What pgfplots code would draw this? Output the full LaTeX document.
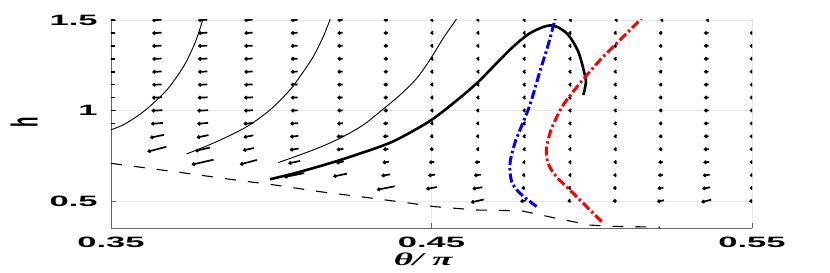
\documentclass[border=0pt]{standalone}
\usepackage{fontspec}
\setmainfont{Liberation Sans}
\newfontfamily\lserif{Liberation Serif}
\usepackage{pgfplots}
\pgfplotsset{compat=1.18}
\usepackage{pgfplotstable}
\usetikzlibrary{arrows.meta}

% quiver field: x, y, horizontal length L (px, pointing left), downward drop d (px)
\pgfplotstableread{
x y L d
0.35 0.92857 9 0
0.35 1.0 9 0
0.35 1.07143 9 0
0.35 1.14286 9 0
0.35 1.21429 9 0
0.35 1.28571 9 0
0.35 1.35714 9 0
0.35 1.42857 9 0
0.35 1.5 9 0
0.36429 0.78571 19 5
0.36429 0.85714 14 3
0.36429 0.92857 12 1
0.36429 1.0 11 0.5
0.36429 1.07143 10 0.5
0.36429 1.14286 9.5 0.5
0.36429 1.21429 9.5 0.5
0.36429 1.28571 9.5 0.5
0.36429 1.35714 9.5 0.5
0.36429 1.42857 9.5 0.5
0.36429 1.5 9.5 0.5
0.37857 0.71429 22 5
0.37857 0.78571 15 3.5
0.37857 0.85714 12 2.5
0.37857 0.92857 11 1
0.37857 1.0 11 0.5
0.37857 1.07143 10 0.5
0.37857 1.14286 9.5 0.5
0.37857 1.21429 9.5 0.5
0.37857 1.28571 9.5 0.5
0.37857 1.35714 9.5 0.5
0.37857 1.42857 9.5 0.5
0.37857 1.5 9.5 0.5
0.39286 0.71429 17 4.5
0.39286 0.78571 11 2.5
0.39286 0.85714 10 2
0.39286 0.92857 10 1
0.39286 1.0 9 0.5
0.39286 1.07143 9 0.5
0.39286 1.14286 8.5 0.5
0.39286 1.21429 8.5 0.5
0.39286 1.28571 8.5 0.5
0.39286 1.35714 8.5 0.5
0.39286 1.42857 8.5 0.5
0.39286 1.5 8.5 0.5
0.40714 0.64286 20 4
0.40714 0.71429 12 2.5
0.40714 0.78571 9 1.5
0.40714 0.85714 8.5 1
0.40714 0.92857 8 0.5
0.40714 1.0 7 0.3
0.40714 1.07143 7 0.3
0.40714 1.14286 7 0.3
0.40714 1.21429 7 0.3
0.40714 1.28571 7 0.3
0.40714 1.35714 7 0.3
0.40714 1.42857 7 0.3
0.40714 1.5 7 0.3
0.42143 0.64286 14 3
0.42143 0.71429 8 1.5
0.42143 0.78571 7 1
0.42143 0.85714 7 0.5
0.42143 0.92857 6 0.3
0.42143 1.0 5.5 0.3
0.42143 1.07143 5.5 0.3
0.42143 1.14286 5.5 0.3
0.42143 1.21429 5.5 0.3
0.42143 1.28571 5.5 0.3
0.42143 1.35714 5.5 0.3
0.42143 1.42857 5.5 0.3
0.42143 1.5 5.5 0.3
0.43571 0.57143 18 3.5
0.43571 0.64286 9 1.5
0.43571 0.71429 6.5 1
0.43571 0.78571 5.5 0.5
0.43571 0.85714 5.5 0.3
0.43571 0.92857 5 0.2
0.43571 1.0 4.5 0.2
0.43571 1.07143 4.5 0.2
0.43571 1.14286 4.5 0.2
0.43571 1.21429 4.5 0.2
0.43571 1.28571 4.5 0.2
0.43571 1.35714 4.5 0.2
0.43571 1.42857 4.5 0.2
0.43571 1.5 4.5 0.2
0.45 0.57143 11 2
0.45 0.64286 7 1
0.45 0.71429 5.5 0.5
0.45 0.78571 4 0.3
0.45 0.85714 3.5 0.2
0.45 0.92857 3 0.2
0.45 1.0 3 0.2
0.45 1.07143 3 0.2
0.45 1.14286 3 0.2
0.45 1.21429 3 0.2
0.45 1.28571 3 0.2
0.45 1.35714 3 0.2
0.45 1.42857 3 0.2
0.45 1.5 3 0.2
0.46429 0.5 13 3
0.46429 0.57143 10 1.5
0.46429 0.64286 7 1
0.46429 0.71429 5 0.5
0.46429 0.78571 3 0.2
0.46429 0.85714 3 0.2
0.46429 0.92857 3 0.2
0.46429 1.0 3 0.2
0.46429 1.07143 2.5 0.1
0.46429 1.14286 2.5 0.1
0.46429 1.21429 2.5 0.1
0.46429 1.28571 2.5 0.1
0.46429 1.35714 2.5 0.1
0.46429 1.42857 2.5 0.1
0.46429 1.5 2.5 0.1
0.47857 0.5 6 1
0.47857 0.57143 3.5 0.5
0.47857 0.64286 2.5 0.2
0.47857 0.71429 2 0.1
0.47857 0.78571 1.5 0
0.47857 0.85714 1.5 0
0.47857 0.92857 1.5 0
0.47857 1.0 1.5 0
0.47857 1.07143 1.5 0
0.47857 1.14286 1.5 0
0.47857 1.21429 1.5 0
0.47857 1.28571 1.5 0
0.47857 1.35714 1.5 0
0.47857 1.42857 1.5 0
0.47857 1.5 1.5 0
0.49286 0.5 3 0.5
0.49286 0.57143 2.5 0.3
0.49286 0.64286 1.5 0
0.49286 0.71429 1.5 0
0.49286 0.78571 1.5 0
0.49286 0.85714 1.5 0
0.49286 0.92857 1.5 0
0.49286 1.0 1.5 0
0.49286 1.07143 1.5 0
0.49286 1.14286 1.5 0
0.49286 1.21429 1.5 0
0.49286 1.28571 1.5 0
0.49286 1.35714 1.5 0
0.49286 1.42857 1.5 0
0.49286 1.5 0.5 0
0.50714 0.5 4 0.5
0.50714 0.57143 3.5 0.5
0.50714 0.64286 3 0.3
0.50714 0.71429 2.5 0.1
0.50714 0.78571 2.5 0.1
0.50714 0.85714 2.5 0.1
0.50714 0.92857 2.5 0.1
0.50714 1.0 2.5 0.1
0.50714 1.07143 2.5 0.1
0.50714 1.14286 2.5 0.1
0.50714 1.21429 2.5 0.1
0.50714 1.28571 2.5 0.1
0.50714 1.35714 2.5 0.1
0.50714 1.42857 2.5 0.1
0.50714 1.5 0.5 0
0.52143 0.5 7 1.5
0.52143 0.57143 6 1
0.52143 0.64286 5 0.5
0.52143 0.71429 4.5 0.5
0.52143 0.78571 3.8 0.2
0.52143 0.85714 3.8 0.2
0.52143 0.92857 3.8 0.2
0.52143 1.0 3.8 0.2
0.52143 1.07143 3.8 0.2
0.52143 1.14286 3.8 0.2
0.52143 1.21429 3.8 0.2
0.52143 1.28571 3.8 0.2
0.52143 1.35714 3.8 0.2
0.52143 1.42857 3.8 0.2
0.52143 1.5 0.8 0
0.53571 0.5 10 2.5
0.53571 0.57143 8 1.5
0.53571 0.64286 7 1
0.53571 0.71429 6 0.5
0.53571 0.78571 5.5 0.3
0.53571 0.85714 5 0.2
0.53571 0.92857 5 0.2
0.53571 1.0 5 0.2
0.53571 1.07143 5 0.2
0.53571 1.14286 5 0.2
0.53571 1.21429 5 0.2
0.53571 1.28571 5 0.2
0.53571 1.35714 5 0.2
0.53571 1.42857 5 0.2
0.53571 1.5 1 0
0.55 0.5 6 1
0.55 0.57143 5 0.2
0.55 0.64286 5 0.2
0.55 0.71429 5 0.2
0.55 0.78571 5 0.2
0.55 0.85714 5 0.2
0.55 0.92857 5 0.2
0.55 1.0 5 0.2
0.55 1.07143 5 0.2
0.55 1.14286 5 0.2
0.55 1.21429 5 0.2
0.55 1.28571 5 0.2
0.55 1.35714 5 0.2
0.55 1.42857 5 0.2
0.55 1.5 1 0
}\field

\begin{document}
\begin{tikzpicture}
\useasboundingbox (-111pt,-44.7pt) rectangle (719pt,228.3pt);
\begin{axis}[
  at={(0pt,0pt)}, anchor=south west,
  scale only axis, width=641pt, height=208.3pt,
  xmin=0.35, xmax=0.55, ymin=0.349, ymax=1.5,
  xtick={0.35,0.45,0.55}, ytick={0.5,1,1.5},
  axis x line*=bottom, axis y line*=left,
  axis line style={black!60, line width=0.7pt},
  tick align=inside,
  major tick length=5pt,
  tick style={black!60, line width=0.7pt},
  grid=major, major grid style={black!9, line width=0.7pt},
  /pgf/number format/assume math mode=true,
  /pgf/number format/fixed,
  xticklabel style={font=\fontsize{15}{18}\selectfont\bfseries, inner sep=0pt, yshift=-8.8pt, xscale=2.3},
  yticklabel style={font=\fontsize{15}{18}\selectfont\bfseries, inner sep=0pt, xshift=-13pt, xscale=2.3},
  xlabel={\lserif\bfseries\itshape θ/ π},
  ylabel={h},
  every axis x label/.style={at={(axis description cs:0.487,0)}, anchor=north, inner sep=0pt, yshift=-24pt, font=\fontsize{18}{21}\selectfont, xscale=2.05},
  every axis y label/.style={at={(axis description cs:-0.1357,0.508)}, anchor=center, inner sep=0pt, font=\fontsize{17}{20}\selectfont\bfseries, xscale=2.2, rotate=90},
]
% quiver field
\addplot[black, line width=1.7pt, -{Straight Barb[length=1.7pt,width=3pt]},
  quiver={u=-\thisrow{L}*0.000312, v=-\thisrow{d}*0.005525}]
  table[x expr=\thisrow{x}+\thisrow{L}*0.000156, y expr=\thisrow{y}+\thisrow{d}*0.0027625] {\field};

% dashed boundary
\addplot[black, line width=1.1pt, dash pattern=on 11pt off 12pt] coordinates {
(0.35,0.708)(0.3736,0.653)(0.3871,0.620)(0.4012,0.588)(0.4153,0.551)(0.4294,0.520)
(0.4437,0.487)(0.4508,0.469)(0.4641,0.450)(0.4779,0.446)(0.4817,0.432)(0.489,0.404)
(0.4994,0.367)(0.5057,0.360)(0.513,0.358)(0.5213,0.355)};

% thin trajectories
\addplot[black, line width=0.9pt, smooth] coordinates {
(0.3490,0.885)(0.35,0.893)(0.3542,0.924)(0.3595,0.985)(0.3635,1.045)(0.3675,1.115)
(0.3708,1.193)(0.3732,1.26)(0.375,1.325)(0.3768,1.40)(0.3786,1.5)(0.3789,1.52)};
\addplot[black, line width=0.9pt, smooth] coordinates {
(0.3736,0.760)(0.383,0.828)(0.3923,0.910)(0.3996,1.003)(0.4058,1.113)(0.41,1.214)
(0.4131,1.297)(0.4162,1.407)(0.4183,1.5)(0.4186,1.52)};
\addplot[black, line width=0.9pt, smooth] coordinates {
(0.4022,0.712)(0.4131,0.782)(0.4214,0.846)(0.4287,0.920)(0.4339,0.993)(0.4402,1.086)
(0.4454,1.178)(0.4495,1.28)(0.4537,1.40)(0.4576,1.5)(0.4583,1.52)};

% thick trajectory
\addplot[black, line width=2.6pt, smooth] coordinates {
(0.3996,0.62)(0.4079,0.656)(0.4204,0.720)(0.4339,0.800)(0.4402,0.848)(0.4495,0.942)
(0.4568,1.040)(0.4641,1.150)(0.4703,1.261)(0.4755,1.353)(0.4807,1.427)(0.4859,1.467)
(0.4891,1.463)(0.4927,1.417)(0.4958,1.325)(0.4976,1.214)(0.4982,1.159)(0.4974,1.086)};

% blue dash-dot
\addplot[blue, line width=3pt, smooth, dash pattern=on 9pt off 3pt on 2.5pt off 3pt] coordinates {
(0.4828,0.469)(0.4776,0.543)(0.475,0.607)(0.4745,0.708)(0.476,0.819)(0.4776,0.892)
(0.4807,1.030)(0.4838,1.214)(0.4864,1.362)(0.4885,1.5)(0.4888,1.52)};

% red dash-dot
\addplot[red, line width=3pt, smooth, dash pattern=on 9pt off 3pt on 2.5pt off 3pt] coordinates {
(0.5031,0.386)(0.4953,0.524)(0.489,0.634)(0.4864,0.708)(0.4859,0.791)(0.4875,0.902)
(0.4911,1.030)(0.4963,1.150)(0.5026,1.279)(0.5078,1.371)(0.5148,1.496)(0.516,1.52)};
\end{axis}
\end{tikzpicture}
\end{document}
